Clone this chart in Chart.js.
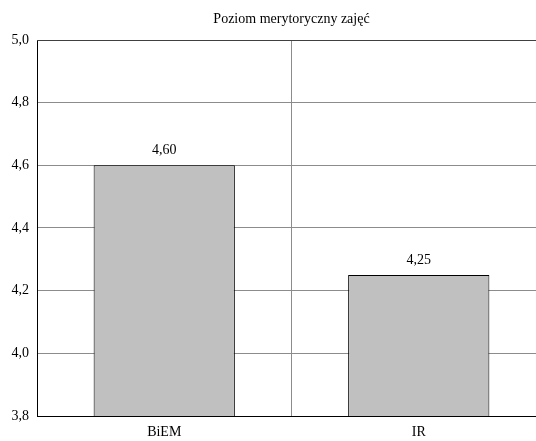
<!DOCTYPE html>
<html>
<head>
<meta charset="utf-8">
<script src="https://cdn.jsdelivr.net/npm/chart.js@4"></script>
<style>
html,body{margin:0;padding:0;overflow:hidden;background:#fff;}
#wrap{width:536px;height:441px;overflow:hidden;position:relative;}
#c{position:absolute;left:0;top:0;}
</style>
</head>
<body>
<div id="wrap"><canvas id="c" width="546" height="441"></canvas></div>
<script>
const chartTitle = "Poziom merytoryczny zajęć";
const categories = ["BiEM", "IR"];
const values = [4.60, 4.25];
const yMin = 3.8, yMax = 5.0, yStep = 0.2;

const FONT = "'Liberation Serif', 'Times New Roman', serif";
const fmt = (v, d) => v.toFixed(d).replace('.', ',');

const valueLabels = {
  id: 'valueLabels',
  afterDatasetsDraw(chart) {
    const ctx = chart.ctx;
    const meta = chart.getDatasetMeta(0);
    ctx.save();
    ctx.font = "14px " + FONT;
    ctx.fillStyle = "#000";
    ctx.textAlign = "center";
    ctx.textBaseline = "middle";
    meta.data.forEach((bar, i) => {
      ctx.fillText(fmt(values[i], 2), bar.x, bar.y - 15);
    });
    ctx.restore();
  }
};

const extras = {
  id: 'extras',
  afterDraw(chart) {
    const a = chart.chartArea, ctx = chart.ctx;
    ctx.save();
    ctx.strokeStyle = "#404040";
    ctx.lineWidth = 1;
    ctx.beginPath();
    ctx.moveTo(a.left, Math.round(a.top) + 0.5);
    ctx.lineTo(a.right, Math.round(a.top) + 0.5);
    ctx.stroke();
    ctx.font = "14px " + FONT;
    ctx.fillStyle = "#000";
    ctx.textAlign = "center";
    ctx.textBaseline = "middle";
    ctx.fillText(chartTitle, (a.left + a.right) / 2, 19);
    ctx.restore();
  }
};

new Chart(document.getElementById('c'), {
  type: 'bar',
  data: {
    labels: categories,
    datasets: [{
      data: values,
      backgroundColor: '#c0c0c0',
      borderColor: '#000',
      borderWidth: 1,
      categoryPercentage: 1,
      barPercentage: 0.555
    }]
  },
  options: {
    responsive: false,
    animation: false,
    devicePixelRatio: 1,
    layout: { padding: { left: 0, right: 0, top: 40, bottom: 0 } },
    plugins: {
      legend: { display: false },
      tooltip: { enabled: false },
      title: { display: false }
    },
    scales: {
      x: {
        offset: true,
        grid: { offset: true, color: '#8c8c8c', drawTicks: false, lineWidth: 1 },
        border: { color: '#000', width: 1 },
        ticks: { color: '#000', font: { family: FONT, size: 14 }, padding: 8 },
        afterFit(s) { s.height = 25; }
      },
      y: {
        min: yMin, max: yMax,
        grid: { color: '#8c8c8c', drawTicks: false, lineWidth: 1 },
        border: { color: '#000', width: 1 },
        ticks: {
          stepSize: yStep,
          color: '#000',
          font: { family: FONT, size: 14 },
          padding: 8,
          callback: v => fmt(v, 1)
        },
        afterFit(s) { s.width = 37; }
      }
    }
  },
  plugins: [valueLabels, extras]
});
</script>
</body>
</html>
